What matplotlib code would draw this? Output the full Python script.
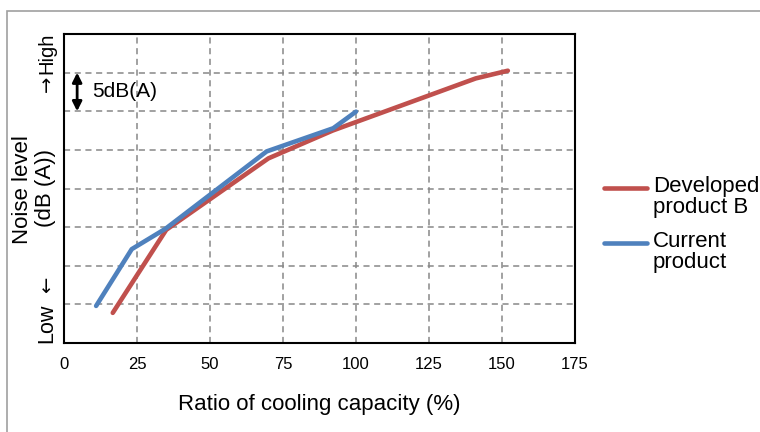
import matplotlib
matplotlib.use("Agg")
from matplotlib import pyplot as plt
from matplotlib.patches import Rectangle
from matplotlib.lines import Line2D

plt.rcParams['font.family'] = ['Liberation Sans', 'DejaVu Sans']

# values (y in grid units, 1 unit = 5 dB(A))
dev_x = [16.7, 35, 70, 92, 141, 152]
dev_y = [0.78, 2.93, 4.78, 5.5, 6.85, 7.05]
cur_x = [11, 23.2, 34.8, 69.4, 92.2, 100]
cur_y = [0.96, 2.43, 2.96, 4.96, 5.56, 5.99]
x_ticks = [0, 25, 50, 75, 100, 125, 150, 175]
names = ['Developed\nproduct B', 'Current\nproduct']

red = '#c0504d'
blue = '#4f81bd'

fig = plt.figure(figsize=(7.6, 4.32), dpi=100)
fig.patches.append(Rectangle((7 / 760, -0.1), 1.2, (432 - 11) / 432 + 0.1,
                             transform=fig.transFigure, fill=False,
                             edgecolor='#a0a0a0', linewidth=1.2))

ax = fig.add_axes([64 / 760, 89 / 432, 511 / 760, 309 / 432])
ax.plot(dev_x, dev_y, color=red, lw=3.3, solid_capstyle='round', zorder=3)
ax.plot(cur_x, cur_y, color=blue, lw=3.3, solid_capstyle='round', zorder=4)

ax.set_xlim(0, 175)
ax.set_ylim(0, 8)
ax.set_xticks(x_ticks)
ax.set_yticks(range(1, 8))
ax.set_yticklabels([])
ax.tick_params(length=0, labelsize=12, pad=10)
ax.grid(True, color='#888888', linestyle=(0, (4, 3)), linewidth=1.1)
for s in ax.spines.values():
    s.set_linewidth(1.5)
    s.set_color('black')

ax.set_xlabel('Ratio of cooling capacity (%)', fontsize=16, labelpad=16)

# 5dB(A) scale marker
ax.annotate('', xy=(4.5, 6), xytext=(4.5, 7),
            arrowprops=dict(arrowstyle='<|-|>', color='black', lw=2,
                            mutation_scale=14, shrinkA=0, shrinkB=0))
ax.text(9.5, 6.5, '5dB(A)', fontsize=15, va='center', ha='left')

# y axis labels
fig.text(23 / 760, (432 - 190) / 432, 'Noise level', rotation=90,
         fontsize=16, ha='center', va='center')
fig.text(45 / 760, (432 - 188) / 432, '(dB (A))', rotation=90,
         fontsize=16, ha='center', va='center')
fig.text(47 / 760, (432 - 343) / 432, 'Low', rotation=90,
         fontsize=15.5, ha='center', va='bottom')
fig.text(47 / 760, (432 - 285) / 432, '\u2190', rotation=90,
         fontsize=14, ha='center', va='center', family='DejaVu Sans')
fig.text(47 / 760, (432 - 33) / 432, 'High', rotation=90,
         fontsize=14.5, ha='center', va='top')
fig.text(47 / 760, (432 - 84) / 432, '\u2192', rotation=90,
         fontsize=14, ha='center', va='center', family='DejaVu Sans')

# legend drawn by hand so the swatch sits on the first text line
for i, (name, col) in enumerate(zip(names, [red, blue])):
    yy = (432 - 188 - 55 * i) / 432
    fig.add_artist(Line2D([604 / 760, 647 / 760], [yy, yy], color=col,
                          lw=3.3, solid_capstyle='round',
                          transform=fig.transFigure))
    fig.text(653 / 760, yy + 12 / 432, name, fontsize=16, ha='left',
             va='top', linespacing=1.0)

fig.savefig('out.png', dpi=100)
